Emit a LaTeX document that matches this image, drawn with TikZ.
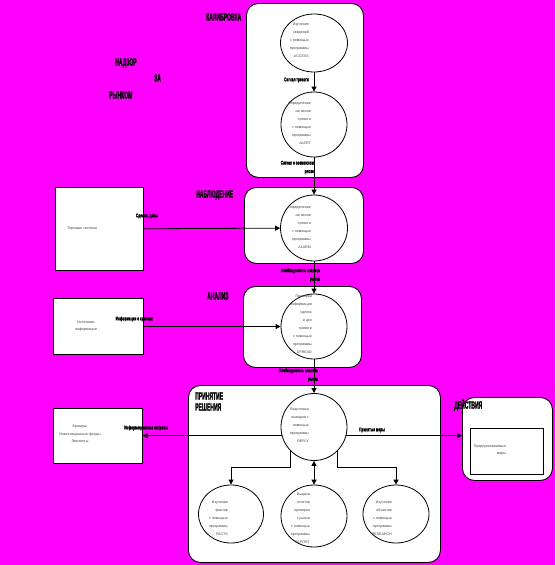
\documentclass[tikz,border=0pt]{standalone}
\usepackage{fontspec}
\setmainfont{Liberation Sans}
\newfontfamily\heavyfont[FakeBold=2.5]{Liberation Sans Bold}
\newfontfamily\labfont[FakeBold=1.5]{Liberation Sans Bold}
\usetikzlibrary{arrows.meta,shapes.geometric}
\definecolor{bg}{RGB}{255,0,255}
\newcommand{\cnd}[1]{\scalebox{0.48}[1]{#1}}
\newcommand{\lcn}[1]{\scalebox{0.58}[1]{#1}}
\begin{document}
\begin{tikzpicture}[x=1pt,y=-1pt,
  frame/.style={draw=black, fill=white, rounded corners=12pt, line width=0.9pt, inner sep=0pt},
  sbox/.style={draw=black, fill=white, line width=0.9pt, inner sep=0pt},
  circ/.style={draw=black, ellipse, inner sep=0pt, line width=0.8pt},
  ctext/.style={font=\fontsize{3.6}{8}\selectfont, text=black!75, align=right, inner sep=0pt},
  btext/.style={font=\fontsize{3.6}{7.5}\selectfont, text=black!75, align=center, inner sep=0pt},
  title/.style={font=\heavyfont\fontsize{10.5}{11}\selectfont, inner sep=0pt, align=left},
  lab/.style={font=\labfont\fontsize{5.5}{8.5}\selectfont, inner sep=0pt, align=right},
  arr/.style={draw=black, line width=0.8pt, -{Triangle[length=5pt,width=5pt]}},
  arrb/.style={draw=black, line width=0.8pt, {Triangle[length=5pt,width=5pt]}-{Triangle[length=5pt,width=5pt]}}]
\fill[bg] (0,0) rectangle (555,565);
\useasboundingbox (0,0) rectangle (555,565);

% big frames
\node[frame, anchor=north west, minimum width=117pt, minimum height=174pt] (F1) at (246,3) {};
\node[frame, anchor=north west, minimum width=119pt, minimum height=76pt] (F2) at (244,187) {};
\node[frame, anchor=north west, minimum width=118pt, minimum height=81pt] (F3) at (243,286) {};
\node[frame, anchor=north west, minimum width=252pt, minimum height=177pt] (F4) at (188,385) {};
\node[frame, anchor=north west, minimum width=90pt, minimum height=83pt] (F5) at (462,397) {};

% titles
\node[title, anchor=west] (t0a) at (115,63) {\cnd{НАДЗОР}};
\node[title, anchor=west] (t0b) at (154,78) {\cnd{ЗА}};
\node[title, anchor=west] (t0c) at (109,95) {\cnd{РЫНКОМ}};
\node[title, anchor=west] (t1) at (206,17) {\cnd{КАЛИБРОВКА}};
\node[title, anchor=west] (t2) at (196,195) {\cnd{НАБЛЮДЕНИЕ}};
\node[title, anchor=west] (t3) at (207,296) {\cnd{АНАЛИЗ}};
\node[title, anchor=west] (t4a) at (195,396) {\cnd{ПРИНЯТИЕ}};
\node[title, anchor=west] (t4b) at (195,407) {\cnd{РЕШЕНИЯ}};
\node[title, anchor=west] (t5) at (454,405) {\cnd{ДЕЙСТВИЯ}};

% side boxes
\node[sbox, anchor=north west, minimum width=88pt, minimum height=83pt] (L1) at (55,187) {};
\node[btext] (L1t) at (82,229) {Торговая система};
\node[sbox, anchor=north west, minimum width=90pt, minimum height=56pt] (L2) at (53,298) {};
\node[btext] (L2t) at (86,326) {Источники\\информации};
\node[sbox, anchor=north west, minimum width=89pt, minimum height=55pt] (L3) at (53,408) {};
\node[btext] (L3t) at (80,434) {Брокеры\\Инвестиционные фонды\\Эмитенты};
\node[sbox, anchor=north west, minimum width=73pt, minimum height=46pt] (A1) at (470,428) {};
\node[btext, align=right] (A1t) at (490,450) {Предпринимаемые\\меры};

% circles
\node[circ, minimum width=67pt, minimum height=58pt] (c1) at (314,43) {};
\node[ctext, anchor=east] (c1t) at (309,40.5) {Изучение\\сведений\\с помощью\\программы\\ACCESS};
\node[circ, minimum width=66pt, minimum height=65pt] (c2) at (314,124.5) {};
\node[ctext, anchor=east] (c2t) at (311,123) {Определение\\сигналов\\тревоги\\с помощью\\программы\\ALERT};
\node[circ, minimum width=67pt, minimum height=66pt] (c3) at (314,228) {};
\node[ctext, anchor=east] (c3t) at (311,227.5) {Определение\\сигналов\\тревоги\\с помощью\\программы\\ALARM};
\node[circ, minimum width=66pt, minimum height=65pt] (c4) at (314,326.5) {};
\node[ctext, anchor=east] (c4t) at (312,324) {Проверка\\информации\\сделок\\и цен\\тревоги\\с помощью\\программы\\SPREAD};
\node[circ, minimum width=66pt, minimum height=67pt] (c5) at (314,427) {};
\node[ctext, anchor=east] (c5t) at (309,425.5) {Подготовка\\выводов с\\помощью\\программы\\REPLY};
\node[circ, minimum width=65pt, minimum height=58pt] (c6) at (231,514) {};
\node[ctext, anchor=east] (c6t) at (228,518) {Изучение\\фактов\\с помощью\\программы\\FACTS};
\node[circ, minimum width=66pt, minimum height=62pt] (c7) at (314,516) {};
\node[ctext, anchor=east] (c7t) at (310,518) {Выдача\\отчетов\\проверки\\с рынка\\с помощью\\программы\\REPORT};
\node[circ, minimum width=66pt, minimum height=58pt] (c8) at (396,514) {};
\node[ctext, anchor=east] (c8t) at (392,518) {Изучение\\объектов\\с помощью\\программы\\RESEARCH};

% connectors
\draw[arr] (c1.south) -- (c2.north);
\draw[arr] (c2.south) -- (c3.north);
\draw[arr] (c3.south) -- (c4.north);
\draw[arr] (c4.south) -- (c5.north);
\draw[arr] (L1) -- (c3);
\draw[arr] (L2) -- (c4);
\draw[arr] (c5.195) -- (c5.195 -| L3.east);
\draw[arr] (c5.345) -- (c5.345 -| F5.west);
\draw[arr] (c5.225) -- ++(0,17) -| (c6.north);
\draw[arr] (c5.315) -- ++(0,17) -| (c8.north);
\draw[arrb] (c5.south) -- (c7.north);

% labels
\node[lab, anchor=east] (l1) at (309,80) {\lcn{Сигнал тревоги}};
\node[lab, anchor=east] (l2) at (314,167.5) {\lcn{Сигнал о возможном}\\\lcn{риске}};
\node[lab, anchor=east] (l3) at (320,275) {\lcn{Необходимость анализа}\\\lcn{рынка}};
\node[lab, anchor=east] (l4) at (318,375) {\lcn{Необходимость анализа}\\\lcn{рынка}};
\node[lab, anchor=east] (l5) at (158,216) {\lcn{Сделки, цены}};
\node[lab, anchor=east] (l6) at (153,319) {\lcn{Информация о сделках}};
\node[lab, anchor=east] (l7) at (168,428) {\lcn{Информационные запросы}};
\node[lab, anchor=east] (l8) at (385,430) {\lcn{Принятые меры}};
\end{tikzpicture}
\end{document}
